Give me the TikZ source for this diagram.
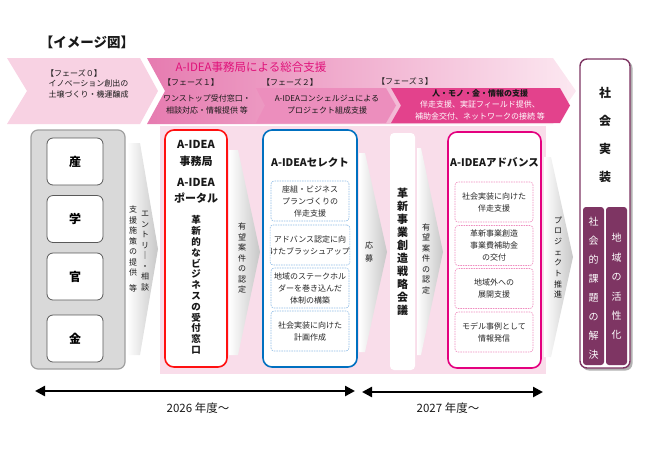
\documentclass[tikz,border=0pt]{standalone}
\usepackage{fontspec}
\setmainfont{Noto Sans CJK JP}
\usetikzlibrary{arrows.meta}
\definecolor{phzero}{HTML}{F8D2E3}
\definecolor{bandL}{HTML}{E67BB0}
\definecolor{bandR}{HTML}{FCE8F1}
\definecolor{bgpink}{HTML}{F9DDEA}
\definecolor{phtwo}{HTML}{EC8EBD}
\definecolor{phthree}{HTML}{E3428C}
\definecolor{tpink}{HTML}{E0127A}
\definecolor{redb}{HTML}{FF1010}
\definecolor{blueb}{HTML}{0070C0}
\definecolor{pinkb}{HTML}{E4007F}
\definecolor{dblue}{HTML}{8FBCE6}
\definecolor{dpink}{HTML}{F08CBF}
\definecolor{purp}{HTML}{7E3563}
\definecolor{grayf}{HTML}{D9D9D9}
\definecolor{grayb}{HTML}{A0A0A0}
\ExplSyntaxOn
\NewDocumentCommand\vst{m}{\seq_set_split:Nnn \l_tmpa_seq {} {#1}\seq_use:Nn \l_tmpa_seq {\\}}
\ExplSyntaxOff
\begin{document}
\begin{tikzpicture}[x=1pt,y=-1pt,
  txt/.style={inner sep=0pt, align=center, text=black!90, font=\fontsize{8}{10.5}\selectfont},
  vt/.style={txt, font=\fontsize{8}{10.5}\selectfont},
  dbox/.style={draw=#1, dash pattern=on 1.5pt off 1pt, line width=0.6pt, rounded corners=3pt, fill=white,
    minimum width=78pt, minimum height=40pt, inner sep=0pt, align=center, text=black!85,
    font=\fontsize{8}{12}\selectfont},
  mainbox/.style={draw=#1, line width=1.6pt, rounded corners=9pt, fill=white, inner sep=0pt},
  ibox/.style={draw=black!65, line width=0.8pt, rounded corners=6pt, fill=white, minimum width=56pt,
    minimum height=47pt, inner sep=0pt, font=\bfseries\fontsize{12}{14}\selectfont},
  colbox/.style={fill=purp, rounded corners=3pt, minimum width=21pt, minimum height=158pt, inner sep=0pt},
  chev/.style={left color=white, right color=black!22},
  tarrow/.style={line width=2.4pt, {Triangle[length=10pt,width=10pt]}-{Triangle[length=10pt,width=10pt]}}
]
\useasboundingbox (0,0) rectangle (650,459);

% ---------- top banner ----------
\fill[phzero] (7,58) -- (140,58) -- (158,91) -- (140,124) -- (7,124) -- (27,91) -- cycle;
\shade[left color=bandL, right color=bandR] (147,58) -- (553,58) -- (576,91) -- (553,124) -- (147,124) -- (165,91) -- cycle;
\fill[bgpink] (160,126) rectangle (546,374);
\fill[phtwo] (256,88) -- (386,88) -- (396,105.5) -- (386,123) -- (256,123) -- (265,105.5) -- cycle;
\fill[phthree] (391,88) -- (560,88) -- (570,105.5) -- (560,123) -- (391,123) -- (401,105.5) -- cycle;

\node[txt, font=\bfseries\fontsize{13.5}{15}\selectfont] (title) at (87,42) {【イメージ図】};
\node[txt, text=tpink, font=\fontsize{11.5}{13}\selectfont] (bandt) at (251,67) {A-IDEA事務局による総合支援};
\node[txt] (p0l) at (74,73) {【フェーズ０】};
\node[txt] (p0t) at (88.5,89) {イノベーション創出の\\土壌づくり・機運醸成};
\node[txt] (p1l) at (191,82) {【フェーズ１】};
\node[txt, font=\fontsize{8}{12}\selectfont] (p1t) at (207,104) {ワンストップ受付窓口・\\相談対応・情報提供 等};
\node[txt] (p2l) at (290,82) {【フェーズ２】};
\node[txt, font=\fontsize{8}{11.5}\selectfont] (p2t) at (327,104.5) {A-IDEAコンシェルジュによる\\プロジェクト組成支援};
\node[txt] (p3l) at (405,81) {【フェーズ３】};
\node[txt, font=\bfseries\fontsize{8}{10}\selectfont] (p3a) at (480,93) {人・モノ・金・情報の支援};
\node[txt, text=white, font=\fontsize{8}{12}\selectfont] (p3b) at (480,110) {伴走支援、実証フィールド提供、\\補助金交付、ネットワークの接続 等};

% ---------- flow arrows ----------
\shade[chev] (127,143) -- (140,143) -- (158,249) -- (140,355) -- (127,355) -- cycle;
\shade[chev] (229,150) -- (238,150) -- (260,252) -- (238,355) -- (229,355) -- cycle;
\shade[chev] (359,153) -- (365,153) -- (387,252) -- (365,352) -- (359,352) -- cycle;
\shade[chev] (417,148) -- (421,148) -- (443,252) -- (421,355) -- (417,355) -- cycle;
\shade[chev] (544,157) -- (551,157) -- (573,257) -- (551,357) -- (544,357) -- cycle;

\node[vt] (e1) at (145,251) {\vst{エントリ｜・相談}};
\node[vt] (e2) at (133,249) {支\\援\\施\\策\\の\\提\\供\\[5pt]等};
\node[vt] (r1) at (242,258) {\vst{有望案件の認定}};
\node[vt, font=\fontsize{8}{13}\selectfont] (o1) at (369,251.5) {応\\募};
\node[vt] (r2) at (426,258.5) {\vst{有望案件の認定}};
\node[vt, font=\fontsize{8}{10.7}\selectfont] (pj) at (558,257.5) {\vst{プロジェクト推進}};

% ---------- left gray box ----------
\node[mainbox=grayb, fill=grayf, line width=1.2pt, rounded corners=7pt, minimum width=94pt, minimum height=239pt] (gray) at (78,249.5) {};
\node[ibox] (san) at (75,161.5) {産};
\node[ibox] (gaku) at (75,219) {学};
\node[ibox] (kan) at (75,276.5) {官};
\node[ibox] (kin) at (75,338.5) {金};

% ---------- red box ----------
\node[mainbox=redb, minimum width=62pt, minimum height=237pt] (jim) at (196,248.5) {};
\node[txt, font=\bfseries\fontsize{11}{17}\selectfont] (jimt) at (196,153.5) {A-IDEA\\事務局};
\node[txt, font=\bfseries\fontsize{11}{16}\selectfont] (port) at (196,191) {A-IDEA\\ポータル};
\node[txt, font=\bfseries\fontsize{9.5}{10.8}\selectfont] (uke) at (196,285) {\vst{革新的なビジネスの受付窓口}};

% ---------- blue box ----------
\node[mainbox=blueb, minimum width=94pt, minimum height=237pt] (sel) at (310,248.5) {};
\node[txt, font=\bfseries\fontsize{10.5}{12}\selectfont] (selt) at (310,162) {A-IDEAセレクト};
\node[dbox=dblue] (s1) at (310,201) {座組・ビジネス\\プランづくりの\\伴走支援};
\node[dbox=dblue] (s2) at (310,245) {アドバンス認定に向\\けたブラッシュアップ};
\node[dbox=dblue] (s3) at (310,288) {地域のステークホル\\ダーを巻き込んだ\\体制の構築};
\node[dbox=dblue] (s4) at (310,331) {社会実装に向けた\\計画作成};

% ---------- strategy council ----------
\node[fill=white, rounded corners=4pt, minimum width=25pt, minimum height=237pt, inner sep=0pt] (kai) at (402.5,251.5) {};
\node[txt, font=\bfseries\fontsize{11}{13}\selectfont] (kait) at (402.5,251.5) {\vst{革新事業創造戦略会議}};

% ---------- pink box ----------
\node[mainbox=pinkb, minimum width=93pt, minimum height=236pt] (adv) at (494.5,250) {};
\node[txt, font=\bfseries\fontsize{10.5}{12}\selectfont] (advt) at (494.5,162) {A-IDEAアドバンス};
\node[dbox=dpink] (a1) at (494,202) {社会実装に向けた\\伴走支援};
\node[dbox=dpink] (a2) at (494,245.5) {革新事業創造\\事業費補助金\\の交付};
\node[dbox=dpink] (a3) at (494,288.5) {地域外への\\展開支援};
\node[dbox=dpink] (a4) at (494,332) {モデル事例として\\情報発信};

% ---------- social implementation ----------
\fill[black!30, rounded corners=7pt] (582,61) rectangle (632.5,370.5);
\node[draw=purp, line width=1.4pt, rounded corners=7pt, fill=white, minimum width=50pt, minimum height=309pt, inner sep=0pt] (soc) at (605,213.5) {};
\node[txt, font=\bfseries\fontsize{12}{28}\selectfont] (soct) at (605,134.5) {\vst{社会実装}};
\node[colbox] (c1) at (593.5,286) {};
\node[colbox] (c2) at (616.5,286) {};
\node[txt, text=white, font=\fontsize{10}{19}\selectfont] (c1t) at (593.5,288.5) {\vst{社会的課題の解決}};
\node[txt, text=white, font=\fontsize{10}{19.4}\selectfont] (c2t) at (616.5,286.5) {\vst{地域の活性化}};

% ---------- time arrows ----------
\coordinate (t1s) at (35,391);
\coordinate (t1e) at (355,391);
\coordinate (t2s) at (362,392);
\coordinate (t2e) at (543,392);
\draw[tarrow] (t1s) -- (t1e);
\draw[tarrow] (t2s) -- (t2e);
\node[txt, font=\fontsize{11.5}{13}\selectfont] (y1) at (198,408) {2026 年度〜};
\node[txt, font=\fontsize{11.5}{13}\selectfont] (y2) at (448,408) {2027 年度〜};
\end{tikzpicture}
\end{document}
